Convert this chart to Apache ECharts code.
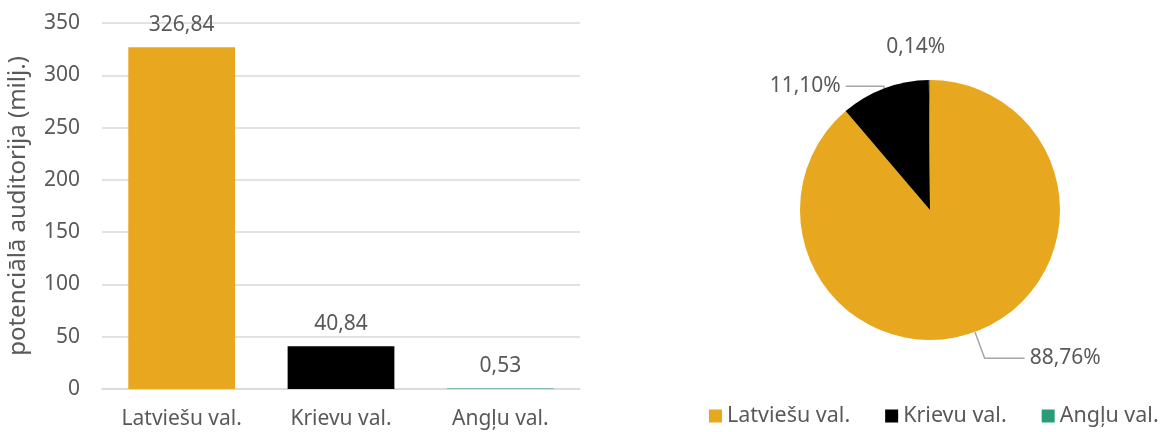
<!DOCTYPE html>
<html>
<head>
<meta charset="utf-8">
<script src="https://cdn.jsdelivr.net/npm/echarts@6/dist/echarts.min.js"></script>
<style>
  html, body { margin: 0; padding: 0; background: #fff; }
  #chart { width: 1160px; height: 432px; }
</style>
</head>
<body>
<div id="chart"></div>
<script>
// categories and values
const categories = ['Latviešu val.', 'Krievu val.', 'Angļu val.'];
const audience = [326.84, 40.84, 0.53];
const shares = [88.76, 11.10, 0.14];
const colors = ['#E7A71E', '#000000', '#2A9D78'];
const yTicks = { min: 0, max: 350, interval: 50 };

const textColor = '#595959';
const font = 'Noto Sans';
const comma = (v) => String(v).replace('.', ',');

// leader line lengths per slice (Excel-like placement)
const pieLines = [
  { length: 28, length2: 40, show: true },
  { length: 2, length2: 38, show: true },
  { length: 33, length2: 0, show: false },
];

const chart = echarts.init(document.getElementById('chart'));

const option = {
  animation: false,
  textStyle: { fontFamily: font, color: textColor },
  grid: {
    left: 102,
    width: 478,
    top: 23,
    bottom: 43,
  },
  xAxis: {
    type: 'category',
    data: categories,
    axisTick: { show: false },
    axisLine: { lineStyle: { color: '#d9d9d9', width: 1.5 } },
    axisLabel: { color: textColor, fontSize: 21, margin: 20, fontFamily: font },
  },
  yAxis: {
    type: 'value',
    min: yTicks.min,
    max: yTicks.max,
    interval: yTicks.interval,
    name: 'potenciālā auditorija (milj.)',
    nameLocation: 'middle',
    nameRotate: 90,
    nameGap: 72,
    nameTextStyle: { color: textColor, fontSize: 24, fontFamily: font },
    axisLabel: { color: textColor, fontSize: 21, margin: 22, fontFamily: font },
    splitLine: { lineStyle: { color: '#d9d9d9', width: 1.5 } },
  },
  legend: {
    data: categories,
    left: 709,
    width: 451,
    bottom: 5,
    padding: 0,
    icon: 'rect',
    itemWidth: 13,
    itemHeight: 13,
    itemGap: 35,
    textStyle: { color: textColor, fontSize: 21.5, fontFamily: font },
  },
  series: [
    {
      type: 'bar',
      barWidth: '67%',
      data: audience.map((v, i) => ({ value: v, itemStyle: { color: colors[i] } })),
      label: {
        show: true,
        position: 'top',
        distance: 12,
        color: textColor,
        fontSize: 21,
        fontFamily: font,
        formatter: (p) => comma(p.value),
      },
    },
    {
      type: 'pie',
      center: [930, 210],
      radius: 130,
      startAngle: 90,
      clockwise: true,
      data: categories.map((c, i) => ({
        name: c,
        value: shares[i],
        itemStyle: { color: colors[i] },
        labelLine: pieLines[i],
      })),
      label: {
        show: true,
        color: textColor,
        fontSize: 21,
        fontFamily: font,
        formatter: (p) => comma(p.value.toFixed(2)) + '%',
      },
      labelLine: {
        lineStyle: { color: '#a6a6a6', width: 1.5 },
      },
      labelLayout: (p) => (p.dataIndex === 2 ? { dx: 21 } : {}),
    },
  ],
};

chart.setOption(option);
</script>
</body>
</html>
